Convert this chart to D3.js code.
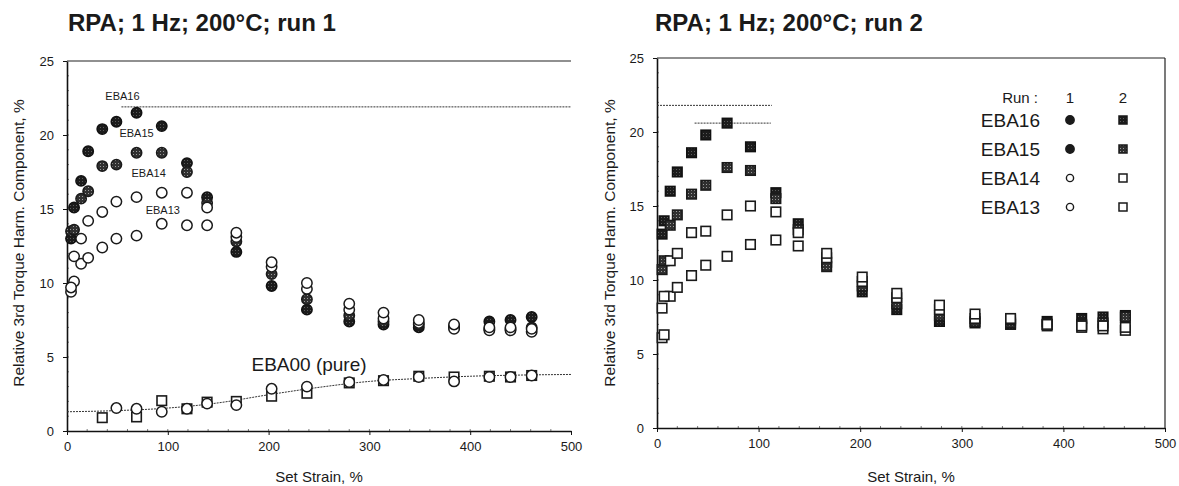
<!DOCTYPE html>
<html>
<head>
<meta charset="utf-8">
<script src="https://cdn.jsdelivr.net/npm/d3@7"></script>
<style>
  body { margin: 0; background: #fff; }
  text { font-family: "Liberation Sans", Arial, sans-serif; fill: #1a1a1a; }
</style>
</head>
<body>
<svg id="chart" width="1179" height="486"></svg>
<script>
// ---- data ----
var xTicks = [0, 100, 200, 300, 400, 500];
var yTicks = [0, 5, 10, 15, 20, 25];

// run 1 (left panel), circles
var strainRun1 = [4, 7, 14, 21, 35, 49, 69, 94, 119, 139, 168, 203, 238, 280, 314, 349, 384, 419, 440, 461];
var eba16Run1 = [13.0, 15.1, 16.9, 18.9, 20.4, 20.9, 21.5, 20.6, 18.1, 15.8, 12.1, 9.8, 8.2, 7.4, 7.2, 7.0, 7.1, 7.4, 7.5, 7.7];
var eba15Run1 = [13.5, 13.6, 15.7, 16.2, 17.9, 18.0, 18.8, 18.8, 17.5, 15.4, 12.8, 10.6, 8.9, 7.8, 7.4, 7.2, 7.0, 6.9, 6.9, 7.0];
var eba14Run1 = [9.7, 11.8, 13.0, 14.2, 14.8, 15.5, 15.8, 16.1, 16.1, 15.1, 13.4, 11.4, 10.0, 8.6, 8.0, 7.5, 7.2, 7.0, 7.0, 6.9];
var eba13Run1 = [9.4, 10.1, 11.3, 11.7, 12.4, 13.0, 13.2, 14.0, 13.9, 13.9, 13.1, 11.1, 9.6, 8.2, 7.6, 7.3, 6.9, 6.8, 6.8, 6.7];

// EBA00 (pure), left panel
var pureCircleStrain = [49, 69, 94, 119, 139, 168, 203, 238, 280, 314, 349, 384, 419, 440, 461];
var pureCircle = [1.55, 1.5, 1.3, 1.5, 1.85, 1.75, 2.85, 3.0, 3.3, 3.45, 3.65, 3.35, 3.65, 3.65, 3.75];
var pureSquareStrain = [35, 69, 94, 119, 139, 168, 203, 238, 280, 314, 349, 384, 419, 440, 461];
var pureSquare = [0.9, 0.95, 2.05, 1.5, 1.95, 2.0, 2.35, 2.55, 3.25, 3.4, 3.7, 3.65, 3.7, 3.65, 3.75];
var pureFitStrain = [0, 50, 100, 150, 200, 250, 300, 350, 400, 450, 500];
var pureFit = [1.3, 1.38, 1.55, 1.9, 2.45, 2.95, 3.35, 3.55, 3.7, 3.78, 3.82];

// run 2 (right panel), squares
var strainRun2 = [5, 7, 13, 20, 34, 48, 69, 92, 117, 139, 167, 202, 236, 278, 313, 348, 384, 418, 439, 461];
var eba16Run2 = [13.1, 14.0, 16.0, 17.3, 18.6, 19.8, 20.6, 19.0, 15.9, 13.8, 11.2, 9.2, 8.0, 7.2, 7.1, 7.0, 7.2, 7.4, 7.5, 7.6];
var eba15Run2 = [10.7, 11.3, 13.7, 14.4, 15.8, 16.4, 17.6, 17.4, 15.5, 13.4, 10.9, 9.6, 8.4, 7.6, 7.2, 7.1, 7.0, 7.0, 7.1, 7.5];
var eba14Run2 = [8.1, 8.9, 11.3, 11.8, 13.2, 13.3, 14.4, 15.0, 14.6, 13.2, 11.8, 10.2, 9.1, 8.3, 7.7, 7.4, 7.0, 6.9, 6.9, 6.8];
var eba13Run2 = [6.1, 6.3, 8.9, 9.5, 10.3, 11.0, 11.6, 12.4, 12.7, 12.3, 11.5, 9.9, 8.8, 8.0, 7.4, 7.3, 6.9, 6.8, 6.7, 6.6];

var seriesNames = ["EBA16", "EBA15", "EBA14", "EBA13"];

var svg = d3.select("#chart");

// stipple patterns for the filled markers
var defs = svg.append("defs");
function stipple(id, bg, dot) {
  var p = defs.append("pattern").attr("id", id).attr("width", 3).attr("height", 3)
    .attr("patternUnits", "userSpaceOnUse");
  p.append("rect").attr("width", 3).attr("height", 3).attr("fill", bg);
  p.append("rect").attr("x", 1).attr("y", 1).attr("width", 1).attr("height", 1).attr("fill", dot);
}
stipple("dark", "#1c1c1c", "#5a5a5a");
stipple("mid", "#303030", "#9a9a9a");

var styles = {
  EBA16: { fill: "url(#dark)", stroke: "#111" },
  EBA15: { fill: "url(#mid)", stroke: "#1a1a1a" },
  EBA14: { fill: "#fff", stroke: "#1a1a1a" },
  EBA13: { fill: "#fff", stroke: "#1a1a1a" }
};

function pairs(xs, ys) {
  return xs.map(function(x, i) { return [x, ys[i]]; });
}

function drawAxes(g, x, y, title, titleX, labelX, withRight) {
  var x0 = x.range()[0], x1 = x.range()[1];
  var y0 = y.range()[0], y1 = y.range()[1];

  // minor ticks inside
  g.append("g").selectAll("line").data(d3.range(1, 25)).enter().append("line")
    .attr("x1", x0).attr("x2", x0 + 2)
    .attr("y1", function(d) { return y(d); }).attr("y2", function(d) { return y(d); })
    .attr("stroke", "#444").attr("stroke-width", 0.7);
  g.append("g").selectAll("line").data(d3.range(20, 500, 20)).enter().append("line")
    .attr("y1", y0).attr("y2", y0 - 2)
    .attr("x1", function(d) { return x(d); }).attr("x2", function(d) { return x(d); })
    .attr("stroke", "#444").attr("stroke-width", 0.7);

  var yAxis = g.append("g").attr("transform", "translate(" + x0 + ",0)")
    .call(d3.axisLeft(y).tickValues(yTicks).tickSize(4).tickSizeOuter(0).tickPadding(9));
  var xAxis = g.append("g").attr("transform", "translate(0," + y0 + ")")
    .call(d3.axisBottom(x).tickValues(xTicks).tickSize(4).tickSizeOuter(0).tickPadding(7));
  [yAxis, xAxis].forEach(function(a) {
    a.select(".domain").attr("stroke", "#111").attr("stroke-width", 1.6);
    a.selectAll(".tick line").attr("stroke", "#111").attr("stroke-width", 1);
    a.selectAll(".tick text").style("font-family", "'Liberation Sans', Arial, sans-serif")
      .style("font-size", "13px").attr("fill", "#1a1a1a");
  });

  // frame
  g.append("line").attr("x1", x0).attr("x2", x1).attr("y1", y1).attr("y2", y1)
    .attr("stroke", "#222").attr("stroke-width", 1.2);
  if (withRight) {
    g.append("line").attr("x1", x1).attr("x2", x1).attr("y1", y1).attr("y2", y0)
      .attr("stroke", "#222").attr("stroke-width", 1.2);
  }

  g.append("text").attr("x", titleX).attr("y", 31)
    .style("font-size", "24px").style("font-weight", "bold").text(title);

  g.append("text").attr("x", (x0 + x1) / 2).attr("y", 482).attr("text-anchor", "middle")
    .style("font-size", "15px").text("Set Strain, %");

  g.append("text").attr("transform", "translate(" + labelX + ",243) rotate(-90)")
    .attr("text-anchor", "middle").attr("dy", "0.35em")
    .style("font-size", "15.5px").text("Relative 3rd Torque Harm. Component, %");
}

function drawCircles(g, x, y, data, st, r) {
  g.append("g").selectAll("circle").data(data.filter(function(d) { return d[1] != null; }))
    .enter().append("circle")
    .attr("cx", function(d) { return x(d[0]); })
    .attr("cy", function(d) { return y(d[1]); })
    .attr("r", r)
    .attr("fill", st.fill).attr("stroke", st.stroke).attr("stroke-width", 1.5);
}

function drawSquares(g, x, y, data, st, s) {
  g.append("g").selectAll("rect").data(data.filter(function(d) { return d[1] != null; }))
    .enter().append("rect")
    .attr("x", function(d) { return x(d[0]) - s / 2; })
    .attr("y", function(d) { return y(d[1]) - s / 2; })
    .attr("width", s).attr("height", s)
    .attr("fill", st.fill).attr("stroke", st.stroke).attr("stroke-width", 1.6);
}

function refLine(g, x, y, from, to, v) {
  g.append("line")
    .attr("x1", x(from)).attr("x2", x(to)).attr("y1", y(v)).attr("y2", y(v))
    .attr("stroke", "#333").attr("stroke-width", 1).attr("stroke-dasharray", "2,1");
}

// ---------- left panel: run 1 ----------
var xL = d3.scaleLinear().domain([0, 500]).range([67, 571]);
var yL = d3.scaleLinear().domain([0, 25]).range([431, 61]);
var left = svg.append("g");
drawAxes(left, xL, yL, "RPA; 1 Hz; 200°C; run 1", 68, 19, false);

refLine(left, xL, yL, 54, 500, 21.9);

left.append("path")
  .datum(pairs(pureFitStrain, pureFit))
  .attr("d", d3.line().x(function(d) { return xL(d[0]); }).y(function(d) { return yL(d[1]); })
    .curve(d3.curveMonotoneX))
  .attr("fill", "none").attr("stroke", "#333").attr("stroke-width", 1).attr("stroke-dasharray", "2,1");

var run1 = { EBA16: eba16Run1, EBA15: eba15Run1, EBA14: eba14Run1, EBA13: eba13Run1 };
["EBA16", "EBA15", "EBA13", "EBA14"].forEach(function(n) {
  drawCircles(left, xL, yL, pairs(strainRun1, run1[n]), styles[n], 5.2);
});
drawSquares(left, xL, yL, pairs(pureSquareStrain, pureSquare), styles.EBA14, 9.5);
drawCircles(left, xL, yL, pairs(pureCircleStrain, pureCircle), styles.EBA14, 5.2);

// in-plot labels (data coordinates)
var labelPos = [[55, 22.6], [69, 20.1], [81, 17.4], [95, 14.9]];
seriesNames.forEach(function(n, i) {
  left.append("text").attr("x", xL(labelPos[i][0])).attr("y", yL(labelPos[i][1]))
    .attr("text-anchor", "middle").attr("dy", "0.35em").style("font-size", "11px").text(n);
});
left.append("text").attr("x", xL(183)).attr("y", yL(4.5)).attr("dy", "0.35em")
  .style("font-size", "19px").text("EBA00 (pure)");

// ---------- right panel: run 2 ----------
var xR = d3.scaleLinear().domain([0, 500]).range([657, 1165]);
var yR = d3.scaleLinear().domain([0, 25]).range([428, 58]);
var right = svg.append("g");
drawAxes(right, xR, yR, "RPA; 1 Hz; 200°C; run 2", 655, 610, true);

refLine(right, xR, yR, 0, 113, 21.8);
refLine(right, xR, yR, 37, 112, 20.6);

var run2 = { EBA16: eba16Run2, EBA15: eba15Run2, EBA14: eba14Run2, EBA13: eba13Run2 };
["EBA16", "EBA15", "EBA13", "EBA14"].forEach(function(n) {
  drawSquares(right, xR, yR, pairs(strainRun2, run2[n]), styles[n], 9.5);
});

// legend
var lg = right.append("g");
lg.append("text").attr("x", 1038).attr("y", 98).attr("dy", "0.35em").attr("text-anchor", "end")
  .style("font-size", "15px").text("Run :");
lg.append("text").attr("x", 1070).attr("y", 98).attr("dy", "0.35em").attr("text-anchor", "middle")
  .style("font-size", "15px").text("1");
lg.append("text").attr("x", 1123).attr("y", 98).attr("dy", "0.35em").attr("text-anchor", "middle")
  .style("font-size", "15px").text("2");
seriesNames.forEach(function(n, i) {
  var yy = 120 + i * 29;
  lg.append("text").attr("x", 1040).attr("y", yy).attr("dy", "0.35em").attr("text-anchor", "end")
    .style("font-size", "19px").text(n);
  var st = styles[n];
  lg.append("circle").attr("cx", 1070).attr("cy", yy).attr("r", i < 2 ? 4.2 : 3.6)
    .attr("fill", i < 2 ? "#1a1a1a" : "#fff").attr("stroke", "#1a1a1a").attr("stroke-width", 1.4);
  lg.append("rect").attr("x", 1123 - 4).attr("y", yy - 4).attr("width", 8).attr("height", 8)
    .attr("fill", st.fill).attr("stroke", "#1a1a1a").attr("stroke-width", 1.5);
});
</script>
</body>
</html>
